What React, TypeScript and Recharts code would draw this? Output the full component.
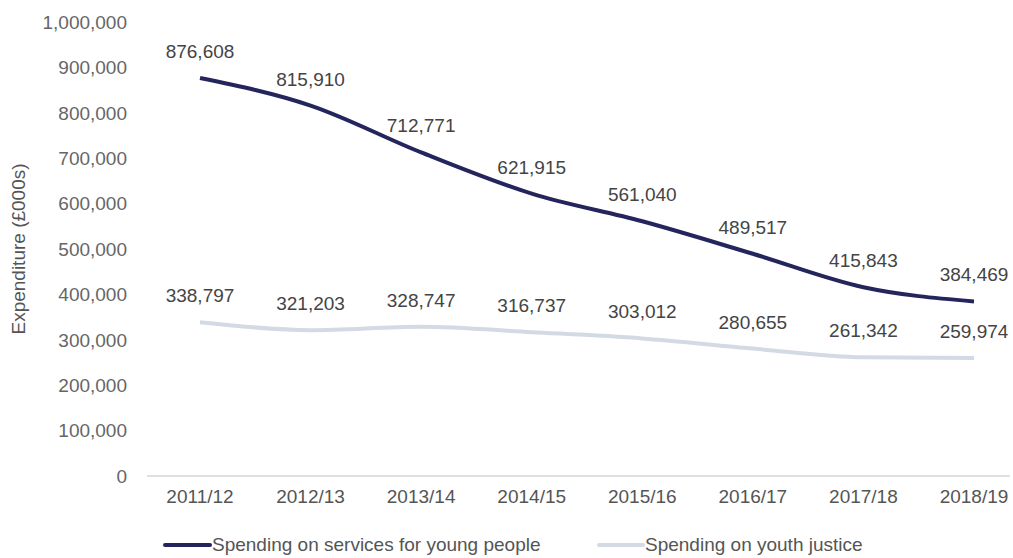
import React from 'react';
import { LineChart, Line, XAxis, YAxis, LabelList, Legend } from 'recharts';

const years = ['2011/12', '2012/13', '2013/14', '2014/15', '2015/16', '2016/17', '2017/18', '2018/19'];
const servicesSpend = [876608, 815910, 712771, 621915, 561040, 489517, 415843, 384469];
const youthJusticeSpend = [338797, 321203, 328747, 316737, 303012, 280655, 261342, 259974];
const yTicks = [0, 100000, 200000, 300000, 400000, 500000, 600000, 700000, 800000, 900000, 1000000];

const data = years.map((year, i) => ({
  year,
  services: servicesSpend[i],
  justice: youthJusticeSpend[i],
}));

const FONT = '"Liberation Sans", Arial, sans-serif';
const NAVY = '#25255e';
const PALE = '#d4dae3';
const FS = 19;

const fmt = (v: number) => v.toLocaleString('en-GB');

const LegendContent = () => (
  <div style={{ display: 'flex', fontFamily: FONT, fontSize: FS, color: '#555', paddingLeft: 163 }}>
    <div style={{ display: 'flex', alignItems: 'center', width: 434 }}>
      <span style={{ display: 'inline-block', width: 49, height: 4, background: NAVY, borderRadius: 2 }} />
      <span>Spending on services for young people</span>
    </div>
    <div style={{ display: 'flex', alignItems: 'center' }}>
      <span style={{ display: 'inline-block', width: 48, height: 4, background: PALE, borderRadius: 2 }} />
      <span>Spending on youth justice</span>
    </div>
  </div>
);

export default function App() {
  return (
    <div style={{ position: 'absolute', left: 0, top: 0, width: 1013, height: 558, background: '#fff' }}>
      <LineChart width={1013} height={558} data={data} margin={{ top: 22, right: 3, left: 0, bottom: 30 }}>
        <XAxis
          dataKey="year"
          padding={{ left: 53, right: 36 }}
          axisLine={{ stroke: '#d6d6d6', strokeWidth: 1.5 }}
          tickLine={false}
          tickMargin={8}
          tick={{ fill: '#555', fontSize: FS, fontFamily: FONT }}
          interval={0}
        />
        <YAxis
          domain={[0, 1000000]}
          ticks={yTicks}
          width={147}
          axisLine={false}
          tickLine={false}
          tickMargin={14}
          tickFormatter={fmt}
          tick={{ fill: '#666', fontSize: FS, fontFamily: FONT }}
          label={{
            value: 'Expenditure (£000s)',
            angle: -90,
            position: 'insideLeft',
            offset: 18,
            style: { textAnchor: 'middle', fill: '#555', fontSize: FS, fontFamily: FONT },
          }}
        />
        <Legend verticalAlign="bottom" align="left" content={<LegendContent />} wrapperStyle={{ bottom: 2, left: 0 }} />
        <Line
          type="monotone"
          dataKey="services"
          name="Spending on services for young people"
          stroke={NAVY}
          strokeWidth={4}
          dot={false}
          isAnimationActive={false}
        >
          <LabelList dataKey="services" position="top" offset={20} formatter={fmt} style={{ fill: '#444', fontSize: FS, fontFamily: FONT }} />
        </Line>
        <Line
          type="monotone"
          dataKey="justice"
          name="Spending on youth justice"
          stroke={PALE}
          strokeWidth={4}
          dot={false}
          isAnimationActive={false}
        >
          <LabelList dataKey="justice" position="top" offset={20} formatter={fmt} style={{ fill: '#444', fontSize: FS, fontFamily: FONT }} />
        </Line>
      </LineChart>
    </div>
  );
}
